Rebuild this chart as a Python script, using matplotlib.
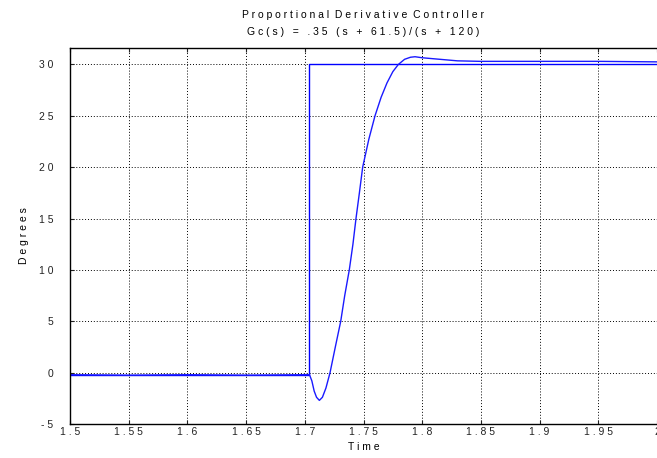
import numpy as np
import matplotlib
matplotlib.use("Agg")
import matplotlib.pyplot as plt

plt.rcParams['font.family'] = ['Liberation Sans Narrow', 'Liberation Sans', 'DejaVu Sans']

# Reference step input
t_ref = [1.5, 1.704, 1.704, 2.0]
y_ref = [-0.2, -0.2, 30.0, 30.0]

t_resp = [1.500, 1.550, 1.600, 1.650, 1.700, 1.704, 1.706, 1.708, 1.710, 1.7124,
          1.715, 1.718, 1.7215, 1.726, 1.7306, 1.734, 1.7379, 1.741, 1.7436,
          1.7465, 1.7493, 1.7545, 1.7598, 1.765, 1.770, 1.775, 1.7797, 1.785,
          1.790, 1.7939, 1.800, 1.810, 1.820, 1.830, 1.850, 1.900, 1.950, 2.000]
y_resp = [-0.2, -0.25, -0.2, -0.25, -0.2, -0.2, -0.8, -1.8, -2.4, -2.7,
          -2.4, -1.5, 0.0, 2.5, 5.0, 7.5, 10.0, 12.5, 15.0,
          17.5, 20.0, 22.7, 25.0, 26.8, 28.2, 29.3, 30.0, 30.5,
          30.7, 30.75, 30.65, 30.55, 30.45, 30.35, 30.3, 30.3, 30.3, 30.25]

xticks = [1.5, 1.55, 1.6, 1.65, 1.7, 1.75, 1.8, 1.85, 1.9, 1.95, 2.0]
xlabels = ['1.5', '1.55', '1.6', '1.65', '1.7', '1.75', '1.8', '1.85', '1.9', '1.95', '2']
yticks = [-5, 0, 5, 10, 15, 20, 25, 30]
ylabels = ['-5', '0', '5', '10', '15', '20', '25', '30']


def spaced(s):
    return ' '.join(s)


fig = plt.figure(figsize=(6.57, 4.58), dpi=100)
ax = fig.add_axes([70 / 657, 34 / 458, 587 / 657, 376 / 458])

ax.plot(t_ref, y_ref, color='#0000ff', lw=1.0)
ax.plot(t_resp, y_resp, color='#1a1aff', lw=1.0)

ax.set_xlim(1.5, 2.0)
ax.set_ylim(-5, 31.6)
ax.set_xticks(xticks)
ax.set_xticklabels([spaced(s) for s in xlabels])
ax.set_yticks(yticks)
ax.set_yticklabels([spaced(s) for s in ylabels])
ax.tick_params(direction='in', length=3, top=True, right=False, labelsize=7.5,
               pad=2, colors='#222222')
ax.tick_params(axis='y', pad=12)
ax.grid(True, color='black', linestyle=(0, (1, 2)), linewidth=0.7)

for s in ['left', 'bottom', 'top']:
    ax.spines[s].set_linewidth(1.0)
ax.spines['right'].set_visible(False)

ax.set_xlabel(spaced('Time'), fontsize=7.5, labelpad=4)
ax.set_ylabel(spaced('Degrees'), fontsize=7.5, labelpad=7)
fig.text(363 / 657, 1 - 15 / 458, spaced('Proportional Derivative Controller').replace('l   D', 'l  D').replace('e   C', 'e  C'),
         ha='center', va='center', fontsize=7.5)
fig.text(363 / 657, 1 - 32 / 458, spaced('Gc(s) = .35 (s + 61.5)/(s + 120)'),
         ha='center', va='center', fontsize=7.5)

fig.savefig('out.png', dpi=100)
